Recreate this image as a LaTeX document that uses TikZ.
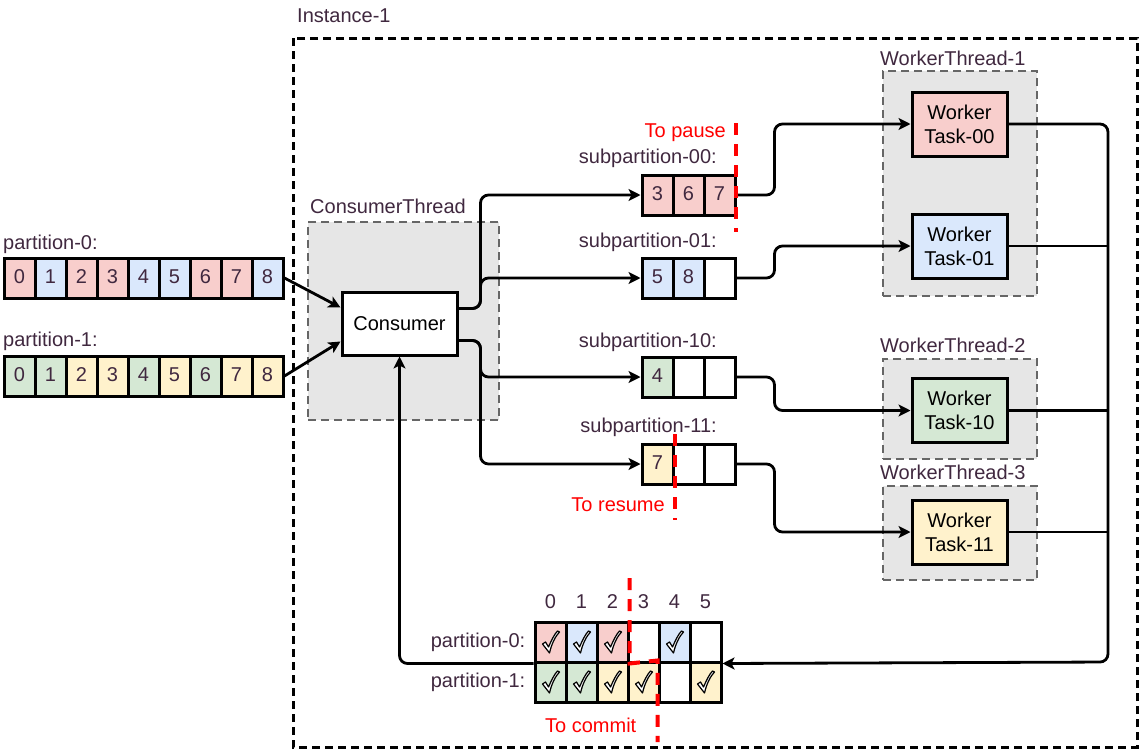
\documentclass[tikz,border=0pt]{standalone}
\usepackage{fontspec}
\setmainfont{Liberation Sans}
\usetikzlibrary{arrows.meta,positioning}
\definecolor{pk}{HTML}{F8CECC}
\definecolor{bl}{HTML}{DAE8FC}
\definecolor{gr}{HTML}{D5E8D4}
\definecolor{ye}{HTML}{FFF2CC}
\definecolor{wh}{HTML}{FFFFFF}
\definecolor{lbltext}{HTML}{40283F}
\definecolor{grpfill}{HTML}{E6E6E6}
\definecolor{grpline}{HTML}{666666}
\tikzset{
	txt/.style = {font=\fontsize{20}{24}\selectfont, inner sep=0pt, text height=14pt, text depth=4pt},
	lbl/.style = {txt, text=lbltext},
	note/.style = {txt, text=red},
	cell/.style = {txt, draw=black, line width=3pt, minimum width=31pt, minimum height=40pt, text=lbltext},
	group/.style = {draw=grpline, fill=grpfill, line width=2.5pt, dash pattern=on 8pt off 5pt},
	frame/.style = {draw=black, line width=3pt, dash pattern=on 8pt off 5pt},
	task/.style = {font=\fontsize{20}{24}\selectfont, draw=black, line width=3pt, minimum width=95pt, minimum height=64pt, align=center, inner sep=0pt},
	link/.style = {line width=2.8pt, rounded corners=8pt},
	flow/.style = {link, -{Stealth[length=12pt,width=12pt,inset=3pt]}},
	cut/.style = {red, line width=4pt, dash pattern=on 12pt off 9pt},
	tick/.pic = {\filldraw[fill=white, draw=black, line width=1.2pt, line join=round]
		(-8,2) -- (-5,0) -- (-2,5) .. controls (1,-2) and (4,-8) .. (7,-11)
		-- (9,-10) .. controls (5,-6) and (1,2) .. (-1,11) -- cycle;}
}

\begin{document}
\begin{tikzpicture}[x=1pt,y=-1pt]
	\useasboundingbox (0,0) rectangle (1141,750);
	\node[lbl, anchor=west] (instlbl) at (297,17) {Instance-1};
	\draw[frame] (293,38) rectangle (1137,747);

	% groups
	\node[group, minimum width=191pt, minimum height=198pt] (ctg) at (403.5,321) {};
	\node[lbl, anchor=west] (ctglbl) at (310,208) {ConsumerThread};
	\node[group, minimum width=154pt, minimum height=225pt] (wt1) at (960,183.5) {};
	\node[lbl, anchor=west] (wt1lbl) at (880,60) {WorkerThread-1};
	\node[group, minimum width=154pt, minimum height=100pt] (wt2) at (960,409) {};
	\node[lbl, anchor=west] (wt2lbl) at (880,347) {WorkerThread-2};
	\node[group, minimum width=154pt, minimum height=94pt] (wt3) at (960,533) {};
	\node[lbl, anchor=west] (wt3lbl) at (880,474) {WorkerThread-3};

	% partitions
	\node[lbl, anchor=west] (pal) at (3,244) {partition-0:};
	\foreach \c [count=\i from 0] in {pk,bl,pk,pk,bl,bl,pk,pk,bl}
		\node[cell, fill=\c] (pa\i) at (19.5+31*\i,278) {\i};
	\node[lbl, anchor=west] (pbl) at (3,341) {partition-1:};
	\foreach \c [count=\i from 0] in {gr,gr,ye,ye,gr,ye,gr,ye,ye}
		\node[cell, fill=\c] (pb\i) at (19.5+31*\i,376) {\i};

	\node[task, fill=white, minimum width=115pt, minimum height=63pt] (cons) at (399.5,323.5) {Consumer};

	% subpartitions
	\node[lbl, anchor=east] (s00l) at (717,158) {subpartition-00:};
	\foreach \v/\c [count=\i from 0] in {3/pk,6/pk,7/pk}
		\node[cell, fill=\c] (s00c\i) at (657.5+31*\i,195) {\v};
	\node[lbl, anchor=east] (s01l) at (717,242) {subpartition-01:};
	\foreach \v/\c [count=\i from 0] in {5/bl,8/bl,{}/wh}
		\node[cell, fill=\c] (s01c\i) at (657.5+31*\i,278) {\v};
	\node[lbl, anchor=east] (s10l) at (717,342) {subpartition-10:};
	\foreach \v/\c [count=\i from 0] in {4/gr,{}/wh,{}/wh}
		\node[cell, fill=\c] (s10c\i) at (657.5+31*\i,377) {\v};
	\node[lbl, anchor=east] (s11l) at (717,427) {subpartition-11:};
	\foreach \v/\c [count=\i from 0] in {7/ye,{}/wh,{}/wh}
		\node[cell, fill=\c] (s11c\i) at (657.5+31*\i,464) {\v};

	% worker tasks
	\node[task, fill=pk] (t00) at (959.5,124) {Worker\\Task-00};
	\node[task, fill=bl] (t01) at (959.5,246) {Worker\\Task-01};
	\node[task, fill=gr] (t10) at (959.5,410.5) {Worker\\Task-10};
	\node[task, fill=ye] (t11) at (959.5,532) {Worker\\Task-11};

	% commit table
	\foreach \c [count=\i from 0] in {pk,bl,pk,wh,bl,wh}
		\node[cell, fill=\c] (ca\i) at (550.5+31*\i,642) {};
	\foreach \c [count=\i from 0] in {gr,gr,ye,ye,wh,ye}
		\node[cell, fill=\c] (cb\i) at (550.5+31*\i,682) {};
	\foreach \i in {0,1,2,4}
		\pic at (ca\i) {tick};
	\foreach \i in {0,1,2,3,5}
		\pic at (cb\i) {tick};
	\foreach \i in {0,...,5}
		\node[lbl, above=8pt of ca\i] (hd\i) {\i};
	\node[lbl, left=8pt of ca0] (cal) {partition-0:};
	\node[lbl, left=8pt of cb0] (cbl) {partition-1:};

	% connectors
	\draw[flow] (pa8.east) -- ([yshift=16pt]cons.west);
	\draw[flow] (pb8.east) -- ([yshift=-18pt]cons.west);
	\draw[flow] ([yshift=15pt]cons.east) -- ++(22pt,0) |- (s00c0.west);
	\draw[flow] ([yshift=15pt]cons.east) -- ++(22pt,0) |- (s01c0.west);
	\draw[flow] ([yshift=-17pt]cons.east) -- ++(22pt,0) |- (s10c0.west);
	\draw[flow] ([yshift=-17pt]cons.east) -- ++(22pt,0) |- (s11c0.west);
	\draw[flow] (s00c2.east) -- ++(38pt,0) |- (t00.west);
	\draw[flow] (s01c2.east) -- ++(38pt,0) |- (t01.west);
	\draw[flow] (s10c2.east) -- ++(38pt,0) |- (t10.west);
	\draw[flow] (s11c2.east) -- ++(38pt,0) |- (t11.west);
	\coordinate (bus) at (1108,662);
	\draw[flow] (t00.east) -| (bus) -- (ca5.south east);
	\draw[link] (t01.east) -- (t01.east -| bus);
	\draw[link] (t10.east) -- (t10.east -| bus);
	\draw[link] (t11.east) -- (t11.east -| bus);
	\draw[flow] (ca0.south west) -| (cons.south);

	% cut lines
	\draw[cut] (736,123) -- (736,232);
	\node[note, anchor=east] (pause) at (726,132) {To pause};
	\draw[cut] (s11c0.east |- 0,434) -- (s11c0.east |- 0,520);
	\node[note, anchor=east] (resume) at (665,506) {To resume};
	\draw[cut] (ca2.east |- 0,578) -- (ca2.south east) -- (cb4.north west) -- (cb4.west |- 0,742);
	\node[note, anchor=west] (commit) at (545,727) {To commit};
\end{tikzpicture}
\end{document}
